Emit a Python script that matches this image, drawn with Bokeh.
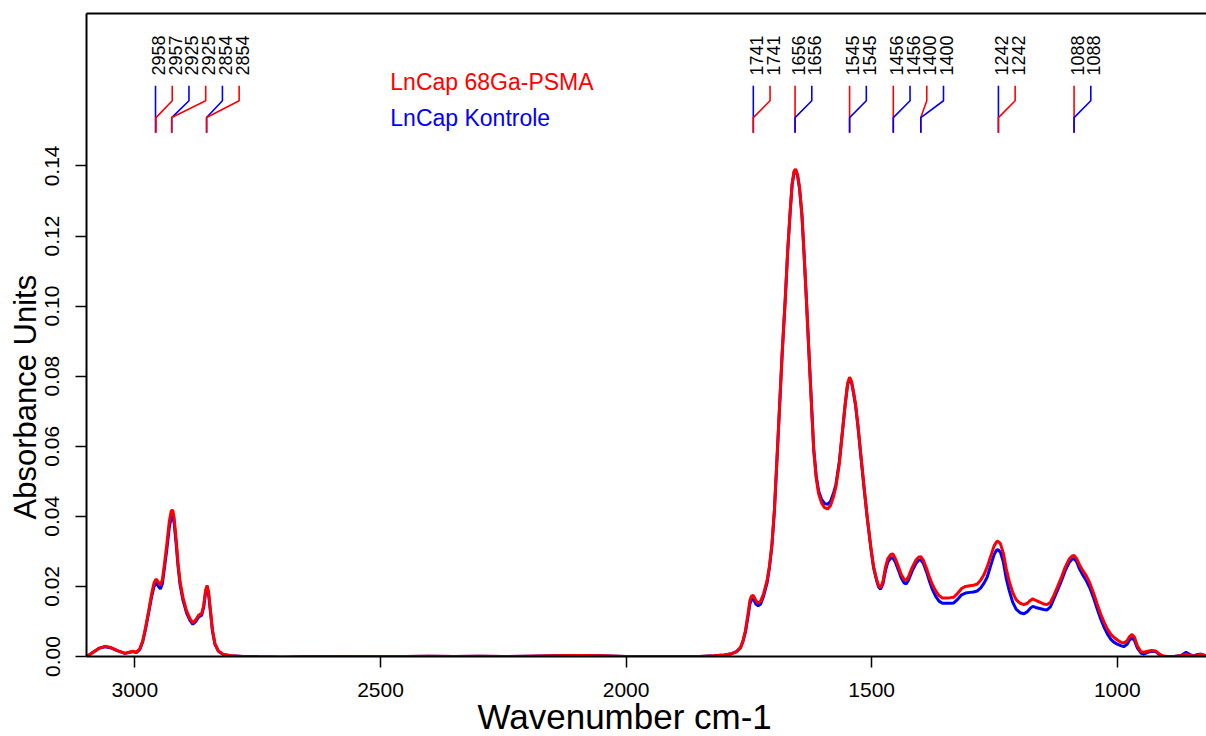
import math
from bokeh.plotting import figure
from bokeh.models import Range1d, FixedTicker, NumeralTickFormatter, LinearAxis, Label, ColumnDataSource, Title
from bokeh.core.properties import value
from bokeh.embed import file_html
from bokeh.resources import INLINE

FONT = "Liberation Sans"

# ---- data ----
wavenumber = [3098, 3085, 3072, 3061, 3050, 3035, 3020, 3010, 3004, 2997, 2990, 2984, 2978, 2972, 2966,
              2961, 2957, 2953, 2948, 2944, 2940, 2935, 2930, 2926, 2923, 2920, 2916, 2912, 2908, 2902,
              2895, 2888, 2882, 2876, 2870, 2864, 2860, 2856, 2853, 2850, 2846, 2842, 2837, 2830, 2820,
              2805, 2780, 2750, 2700, 2650, 2600, 2550, 2500, 2450, 2400, 2350, 2300, 2250, 2200, 2150,
              2100, 2050, 2000, 1950, 1900, 1850, 1820, 1800, 1785, 1775, 1767, 1762, 1757, 1752, 1748,
              1745, 1741, 1736, 1731, 1726, 1720, 1713, 1708, 1703, 1698, 1692, 1687, 1682, 1676, 1671,
              1666, 1662, 1658, 1655, 1651, 1647, 1642, 1638, 1633, 1628, 1623, 1618, 1613, 1608, 1602,
              1596, 1590, 1584, 1578, 1573, 1566, 1560, 1554, 1549, 1545, 1541, 1537, 1533, 1528, 1523,
              1516, 1509, 1502, 1496, 1490, 1486, 1482, 1477, 1472, 1467, 1461, 1457, 1452, 1446, 1440,
              1434, 1430, 1425, 1418, 1410, 1404, 1400, 1395, 1388, 1382, 1377, 1370, 1363, 1356, 1348,
              1340, 1333, 1325, 1317, 1309, 1300, 1293, 1285, 1278, 1271, 1265, 1258, 1251, 1246, 1243,
              1238, 1232, 1226, 1220, 1213, 1206, 1198, 1190, 1183, 1177, 1172, 1166, 1158, 1150, 1143,
              1136, 1129, 1122, 1114, 1106, 1098, 1092, 1088, 1083, 1077, 1070, 1063, 1056, 1048, 1041,
              1034, 1027, 1020, 1013, 1007, 1000, 993, 987, 980, 975, 970, 965, 959, 952, 946,
              938, 930, 922, 915, 908, 900, 885, 870, 860, 853, 845, 838, 830, 822, 815]

absorb_psma = [0.0000, 0.0012, 0.0024, 0.0029, 0.0026, 0.0017, 0.0009, 0.0013, 0.0015, 0.0012, 0.0022, 0.0045, 0.0085, 0.0130, 0.0178,
               0.0210, 0.0221, 0.0214, 0.0203, 0.0220, 0.0262, 0.0320, 0.0385, 0.0415, 0.0418, 0.0395, 0.0335, 0.0265, 0.0213, 0.0168,
               0.0131, 0.0108, 0.0096, 0.0105, 0.0118, 0.0123, 0.0145, 0.0190, 0.0203, 0.0185, 0.0130, 0.0075, 0.0036, 0.0016, 0.0006,
               0.0002, 0.0000, -0.0001, -0.0002, -0.0001, -0.0001, 0.0000, 0.0000, 0.0000, 0.0001, 0.0000, 0.0001, 0.0000, 0.0001, 0.0002,
               0.0003, 0.0002, 0.0000, -0.0001, -0.0001, 0.0000, 0.0002, 0.0004, 0.0008, 0.0014, 0.0026, 0.0045, 0.0074, 0.0120, 0.0160,
               0.0172, 0.0174, 0.0160, 0.0152, 0.0158, 0.0180, 0.0217, 0.0260, 0.0322, 0.0420, 0.0588, 0.0730, 0.0873, 0.1020, 0.1158,
               0.1270, 0.1349, 0.1385, 0.1391, 0.1375, 0.1339, 0.1260, 0.1158, 0.1020, 0.0873, 0.0730, 0.0588, 0.0510, 0.0464, 0.0438,
               0.0425, 0.0421, 0.0430, 0.0455, 0.0483, 0.0550, 0.0635, 0.0720, 0.0780, 0.0797, 0.0785, 0.0755, 0.0721, 0.0660, 0.0588,
               0.0490, 0.0397, 0.0315, 0.0255, 0.0220, 0.0203, 0.0196, 0.0215, 0.0255, 0.0280, 0.0291, 0.0293, 0.0280, 0.0258, 0.0235,
               0.0220, 0.0217, 0.0228, 0.0253, 0.0275, 0.0284, 0.0285, 0.0275, 0.0250, 0.0225, 0.0207, 0.0188, 0.0174, 0.0167, 0.0167,
               0.0168, 0.0169, 0.0180, 0.0194, 0.0200, 0.0202, 0.0203, 0.0207, 0.0218, 0.0235, 0.0255, 0.0285, 0.0315, 0.0327, 0.0329,
               0.0322, 0.0295, 0.0250, 0.0215, 0.0183, 0.0162, 0.0152, 0.0148, 0.0152, 0.0160, 0.0165, 0.0160, 0.0155, 0.0150, 0.0148,
               0.0155, 0.0175, 0.0198, 0.0225, 0.0255, 0.0278, 0.0287, 0.0288, 0.0280, 0.0262, 0.0245, 0.0230, 0.0210, 0.0180, 0.0150,
               0.0122, 0.0098, 0.0078, 0.0063, 0.0055, 0.0047, 0.0041, 0.0038, 0.0045, 0.0057, 0.0063, 0.0055, 0.0030, 0.0014, 0.0012,
               0.0015, 0.0017, 0.0016, 0.0008, 0.0002, 0.0000, 0.0000, 0.0002, 0.0007, 0.0004, 0.0000, 0.0003, 0.0006, 0.0003, 0.0001]

absorb_kontrole = [0.0000, 0.0012, 0.0024, 0.0028, 0.0025, 0.0016, 0.0009, 0.0012, 0.0014, 0.0011, 0.0020, 0.0042, 0.0080, 0.0125, 0.0170,
                   0.0200, 0.0210, 0.0202, 0.0193, 0.0208, 0.0250, 0.0305, 0.0368, 0.0398, 0.0400, 0.0380, 0.0322, 0.0255, 0.0205, 0.0160,
                   0.0125, 0.0103, 0.0092, 0.0100, 0.0113, 0.0118, 0.0140, 0.0183, 0.0196, 0.0178, 0.0125, 0.0072, 0.0035, 0.0015, 0.0006,
                   0.0002, 0.0000, -0.0001, -0.0002, -0.0001, -0.0001, 0.0000, 0.0000, 0.0000, 0.0001, 0.0000, 0.0001, 0.0000, 0.0001, 0.0002,
                   0.0003, 0.0002, 0.0000, -0.0001, -0.0001, 0.0000, 0.0002, 0.0004, 0.0008, 0.0014, 0.0025, 0.0043, 0.0070, 0.0112, 0.0150,
                   0.0160, 0.0165, 0.0150, 0.0145, 0.0150, 0.0173, 0.0210, 0.0255, 0.0318, 0.0417, 0.0585, 0.0728, 0.0871, 0.1018, 0.1156,
                   0.1268, 0.1346, 0.1382, 0.1388, 0.1373, 0.1337, 0.1259, 0.1158, 0.1021, 0.0875, 0.0733, 0.0592, 0.0516, 0.0472, 0.0448,
                   0.0437, 0.0434, 0.0442, 0.0465, 0.0490, 0.0555, 0.0636, 0.0718, 0.0776, 0.0792, 0.0781, 0.0752, 0.0718, 0.0657, 0.0585,
                   0.0487, 0.0394, 0.0312, 0.0252, 0.0217, 0.0199, 0.0192, 0.0208, 0.0245, 0.0270, 0.0281, 0.0282, 0.0270, 0.0248, 0.0225,
                   0.0210, 0.0207, 0.0218, 0.0243, 0.0265, 0.0275, 0.0276, 0.0266, 0.0240, 0.0213, 0.0193, 0.0172, 0.0158, 0.0152, 0.0152,
                   0.0152, 0.0153, 0.0163, 0.0176, 0.0181, 0.0183, 0.0184, 0.0187, 0.0196, 0.0210, 0.0226, 0.0258, 0.0290, 0.0303, 0.0305,
                   0.0298, 0.0270, 0.0222, 0.0188, 0.0155, 0.0135, 0.0125, 0.0122, 0.0128, 0.0138, 0.0143, 0.0140, 0.0137, 0.0134, 0.0133,
                   0.0142, 0.0165, 0.0188, 0.0215, 0.0245, 0.0268, 0.0278, 0.0279, 0.0271, 0.0250, 0.0232, 0.0216, 0.0196, 0.0166, 0.0136,
                   0.0108, 0.0084, 0.0064, 0.0049, 0.0041, 0.0035, 0.0031, 0.0028, 0.0035, 0.0047, 0.0053, 0.0046, 0.0024, 0.0010, 0.0007,
                   0.0012, 0.0015, 0.0014, 0.0006, 0.0001, 0.0000, 0.0000, 0.0003, 0.0012, 0.0006, 0.0001, 0.0005, 0.0007, 0.0003, 0.0001]

series_names = ["LnCap 68Ga-PSMA", "LnCap Kontrole"]
series_colors = ["#FF0000", "#0000FF"]

# peak annotations (order as shown, left to right)
peak_values = [2958, 2957, 2925, 2925, 2854, 2854,
               1741, 1741, 1656, 1656, 1545, 1545, 1456, 1456, 1400, 1400, 1242, 1242, 1088, 1088]
peak_series = ["K", "P", "K", "P", "K", "P",
               "K", "P", "P", "K", "P", "K", "P", "K", "P", "K", "K", "P", "P", "K"]

x_ticks = [1000, 1500, 2000, 2500, 3000]
y_ticks = [0.00, 0.02, 0.04, 0.06, 0.08, 0.10, 0.12, 0.14]
x_title = "Wavenumber cm-1"
y_title = "Absorbance Units"

X_START, X_END = 3098.5, 818.4
Y_START, Y_END = 0.0, 0.1835

p = figure(width=1206, height=736, output_backend="svg", toolbar_location=None,
           x_range=Range1d(X_START, X_END), y_range=Range1d(Y_START, Y_END),
           min_border_left=86, min_border_right=0, min_border_top=13, min_border_bottom=80)
p.outline_line_color = None
p.grid.visible = False
p.background_fill_color = "white"
p.border_fill_color = "white"

# curves
p.line(wavenumber, absorb_kontrole, line_color=series_colors[1], line_width=3)
p.line(wavenumber, absorb_psma, line_color=series_colors[0], line_width=3)

# axes styling
for ax in [p.xaxis[0], p.yaxis[0]]:
    ax.axis_line_color = "black"
    ax.axis_line_width = 2
    ax.major_tick_line_color = "black"
    ax.major_tick_line_width = 1.5
    ax.major_tick_out = 11
    ax.major_tick_in = 0
    ax.minor_tick_line_color = None
    ax.major_label_text_font = FONT
    ax.major_label_text_font_size = "21px"
    ax.major_label_text_color = "black"

p.xaxis[0].ticker = FixedTicker(ticks=x_ticks)
p.xaxis[0].major_label_standoff = 15

p.yaxis[0].ticker = FixedTicker(ticks=y_ticks)
p.yaxis[0].formatter = NumeralTickFormatter(format="0.00")
p.yaxis[0].major_label_orientation = "vertical"
p.yaxis[0].major_label_standoff = 16

# top border line
top = LinearAxis(major_tick_line_color=None, minor_tick_line_color=None,
                 major_label_text_font_size="0px", axis_line_color="black", axis_line_width=2,
                 ticker=FixedTicker(ticks=[]))
p.add_layout(top, "above")

# axis titles (offset to sit where the reference has them)
p.add_layout(Title(text=x_title, align="left", offset=391, standoff=-10, text_font=FONT,
                   text_font_size="35px", text_font_style="normal", text_color="black"), "below")
p.add_layout(Title(text=y_title, align="left", offset=137, standoff=0, text_font=FONT,
                   text_font_size="31px", text_font_style="normal", text_color="black"), "left")

# ---- peak annotations ----
px_per_unit = (1116.0 - 625.6) / 1000.0
gap = 16.7 / px_per_unit  # minimal label spacing in wavenumber units
label_pos = []
for i, pk in enumerate(peak_values):
    pos = pk
    if i > 0 and label_pos[-1] - pos < gap:
        pos = label_pos[-1] - gap
    label_pos.append(pos)

y_top, y_knee1, y_knee2, y_bot, y_text = 0.1629, 0.1586, 0.1538, 0.1495, 0.1658
xs, ys, cols = [], [], []
for pk, lp, s in zip(peak_values, label_pos, peak_series):
    xs.append([lp, lp, pk, pk])
    ys.append([y_top, y_knee1, y_knee2, y_bot])
    cols.append(series_colors[0] if s == "P" else series_colors[1])
p.multi_line(xs=xs, ys=ys, line_color=cols, line_width=1.6)

src = ColumnDataSource(dict(x=label_pos, y=[y_text] * len(label_pos), t=[str(v) for v in peak_values]))
p.text(x="x", y="y", text="t", source=src, angle=math.pi / 2, text_align="left",
       text_baseline="middle", text_font=value(FONT), text_font_size="18px", text_color="black",
       x_offset=3)

# legend-like labels
leg_x = 2480
p.add_layout(Label(x=leg_x, y=0.1640, text=series_names[0], text_color=series_colors[0],
                   text_font=FONT, text_font_size="23px", text_baseline="middle"))
p.add_layout(Label(x=leg_x, y=0.1538, text=series_names[1], text_color=series_colors[1],
                   text_font=FONT, text_font_size="23px", text_baseline="middle"))

open("out.html", "w").write(file_html(p, INLINE))
